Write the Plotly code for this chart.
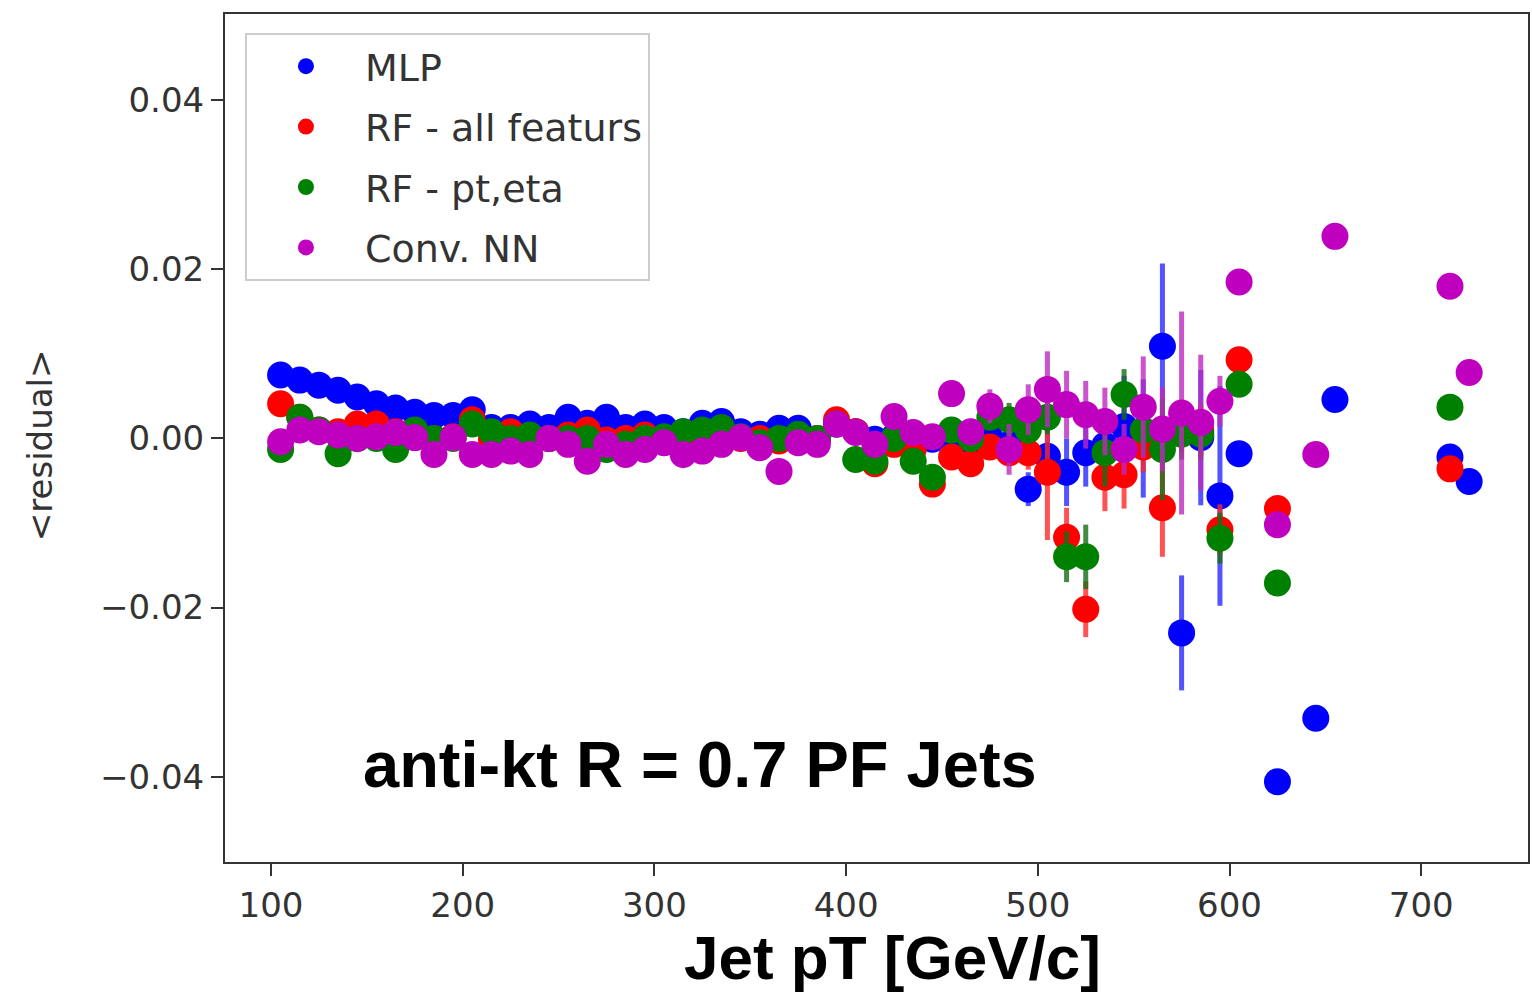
import plotly.graph_objects as go

# ---------------- data ----------------
bins = [105, 115, 125, 135, 145, 155, 165, 175, 185, 195,
        205, 215, 225, 235, 245, 255, 265, 275, 285, 295,
        305, 315, 325, 335, 345, 355, 365, 375, 385, 395,
        405, 415, 425, 435, 445, 455, 465, 475, 485, 495,
        505, 515, 525, 535, 545, 555, 565, 575, 585, 595]

mlp_x = bins + [605, 625, 645, 655, 715, 725]
mlp_y = [0.0075, 0.0069, 0.0063, 0.0057, 0.0049, 0.0041, 0.0036, 0.0031, 0.0027, 0.0027,
         0.0034, 0.0013, 0.0013, 0.0017, 0.0013, 0.0025, 0.0018, 0.0025, 0.0013, 0.0017,
         0.0013, 0.0008, 0.0018, 0.0020, 0.0008, 0.0005, 0.0012, 0.0012, -0.0001, 0.0017,
         0.0008, -0.0001, 0.0002, -0.0007, -0.0001, 0.0004, -0.0007, 0.0001, -0.0007, -0.0060,
         -0.0021, -0.0040, -0.0017, -0.0008, 0.0014, 0.0000, 0.0109, -0.0230, 0.0001, -0.0068,
         -0.0018, -0.0406, -0.0331, 0.0046, -0.0022, -0.0051]
mlp_err = [0.0003] * 35 + [0.0008, 0.0010, 0.0012, 0.0015, 0.0020,
                           0.0030, 0.0040, 0.0040, 0.0040, 0.0060, 0.0070, 0.0098, 0.0068, 0.0080, 0.0130,
                           0, 0, 0, 0, 0, 0]

rfa_x = bins + [605, 625, 715]
rfa_y = [0.0041, 0.0025, 0.0010, 0.0008, 0.0017, 0.0017, 0.0008, 0.0005, 0.0000, 0.0002,
         0.0022, -0.0001, 0.0008, -0.0001, 0.0000, 0.0004, 0.0010, -0.0002, 0.0000, 0.0004,
         -0.0002, -0.0008, 0.0004, 0.0005, 0.0000, 0.0000, -0.0003, 0.0000, 0.0000, 0.0022,
         0.0008, -0.0030, -0.0007, -0.0013, -0.0054, -0.0022, -0.0030, -0.0010, -0.0017, -0.0017,
         -0.0040, -0.0117, -0.0202, -0.0046, -0.0043, -0.0010, -0.0082, 0.0014, 0.0010, -0.0108,
         0.0093, -0.0083, -0.0036]
rfa_err = [0.0003] * 35 + [0.0008, 0.0010, 0.0012, 0.0015, 0.0020,
                           0.0080, 0.0035, 0.0033, 0.0040, 0.0040, 0.0030, 0.0058, 0.0030, 0.0030, 0.0030,
                           0, 0, 0]

rfp_x = bins + [605, 625, 715]
rfp_y = [-0.0013, 0.0025, 0.0010, -0.0018, 0.0000, 0.0000, -0.0013, 0.0010, 0.0000, 0.0000,
         0.0017, 0.0008, 0.0000, 0.0004, 0.0000, 0.0000, 0.0000, -0.0013, -0.0007, 0.0000,
         0.0002, 0.0008, 0.0010, 0.0013, 0.0002, -0.0005, 0.0000, 0.0005, 0.0000, 0.0017,
         -0.0025, -0.0027, 0.0000, -0.0027, -0.0046, 0.0010, 0.0000, 0.0025, 0.0022, 0.0010,
         0.0025, -0.0140, -0.0140, -0.0017, 0.0052, 0.0010, -0.0013, 0.0005, 0.0005, -0.0118,
         0.0064, -0.0171, 0.0037]
rfp_err = [0.0003] * 35 + [0.0008, 0.0010, 0.0012, 0.0020, 0.0015,
                           0.0020, 0.0030, 0.0038, 0.0040, 0.0030, 0.0030, 0.0060, 0.0030, 0.0030, 0.0030,
                           0, 0, 0]

cnn_x = bins + [605, 625, 645, 655, 715, 725]
cnn_y = [-0.0004, 0.0010, 0.0008, 0.0004, 0.0000, 0.0002, 0.0007, 0.0001, -0.0019, 0.0001,
         -0.0019, -0.0019, -0.0015, -0.0019, 0.0000, -0.0007, -0.0027, -0.0007, -0.0019, -0.0013,
         -0.0005, -0.0019, -0.0015, -0.0007, 0.0001, -0.0011, -0.0039, -0.0005, -0.0007, 0.0017,
         0.0007, -0.0007, 0.0026, 0.0007, 0.0002, 0.0053, 0.0008, 0.0038, -0.0013, 0.0034,
         0.0058, 0.0040, 0.0028, 0.0020, -0.0013, 0.0037, 0.0011, 0.0030, 0.0019, 0.0044,
         0.0185, -0.0102, -0.0019, 0.0239, 0.0180, 0.0078]
cnn_err = [0.0003] * 35 + [0.0010, 0.0010, 0.0020, 0.0030, 0.0030,
                           0.0045, 0.0040, 0.0040, 0.0040, 0.0030, 0.0060, 0.0050, 0.0120, 0.0080, 0.0030,
                           0, 0, 0, 0, 0, 0]

series_names = ["MLP", "RF - all featurs", "RF - pt,eta", "Conv. NN"]
series_colors = ["#0000ff", "#ff0000", "#008000", "#bf00bf"]
bar_colors = ["rgba(40,40,255,0.8)", "rgba(255,40,40,0.8)", "rgba(20,110,20,0.8)", "rgba(190,40,190,0.8)"]

xs = [mlp_x, rfa_x, rfp_x, cnn_x]
ys = [mlp_y, rfa_y, rfp_y, cnn_y]
errs = [mlp_err, rfa_err, rfp_err, cnn_err]

# ---------------- figure ----------------
fig = go.Figure()
for i in range(4):
    fig.add_trace(go.Scatter(
        x=xs[i], y=ys[i], mode="markers", name=series_names[i],
        legendgroup=f"g{i}",
        marker=dict(color=series_colors[i], size=27, line=dict(width=0)),
        error_y=dict(type="data", array=errs[i], visible=True,
                     color=bar_colors[i], thickness=5, width=0),
    ))

axis_font = dict(family="DejaVu Sans", size=34, color="#333333")

fig.update_layout(
    width=1532, height=997,
    margin=dict(l=225, r=2, t=14, b=135),
    paper_bgcolor="white", plot_bgcolor="white",
    showlegend=True,
    legend=dict(
        x=0.0153, y=0.9776, xanchor="left", yanchor="top",
        bgcolor="white", bordercolor="#cccccc", borderwidth=2,
        font=dict(family="DejaVu Sans", size=38, color="#333333"),
        tracegroupgap=8, itemwidth=108,
    ),
    xaxis=dict(
        range=[76, 755.7], tickmode="array", tickvals=[100, 200, 300, 400, 500, 600, 700],
        ticks="outside", ticklen=12, tickwidth=1.5, tickcolor="#333333",
        showline=True, linecolor="#333333", linewidth=2, mirror=True,
        showgrid=False, zeroline=False, tickfont=axis_font,
    ),
    yaxis=dict(
        range=[-0.0501, 0.0502], tickmode="array", tickvals=[-0.04, -0.02, 0.0, 0.02, 0.04],
        tickformat=".2f",
        ticks="outside", ticklen=12, tickwidth=1.5, tickcolor="#333333",
        showline=True, linecolor="#333333", linewidth=2, mirror=True,
        showgrid=False, zeroline=False, tickfont=axis_font,
    ),
    annotations=[
        dict(text="anti-kt R = 0.7 PF Jets", x=147.0, y=-0.0386, xref="x", yref="y",
             xanchor="left", yanchor="middle", showarrow=False,
             font=dict(family="Liberation Sans", size=65, color="black", weight="bold")),
        dict(text="Jet pT [GeV/c]", x=0.5119, y=-0.1130, xref="paper", yref="paper",
             xanchor="center", yanchor="middle", showarrow=False,
             font=dict(family="Liberation Sans", size=62, color="black", weight="bold")),
        dict(text="&lt;residual&gt;", x=-0.1418, y=0.4918, xref="paper", yref="paper",
             xanchor="center", yanchor="middle", showarrow=False, textangle=-90,
             font=dict(family="DejaVu Sans", size=34, color="#333333")),
    ],
)

fig.write_html("out.html")
